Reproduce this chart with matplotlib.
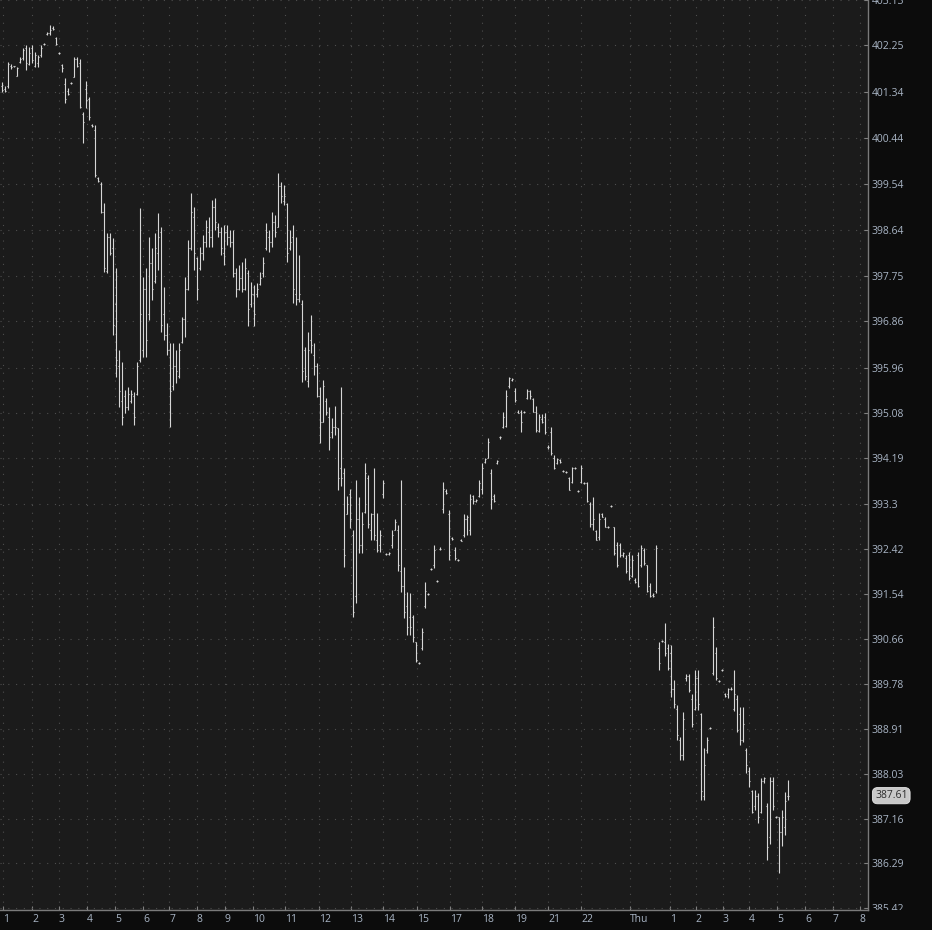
import numpy as np
import matplotlib
matplotlib.use("Agg")
import matplotlib.pyplot as plt
import matplotlib.transforms as mtransforms
from matplotlib.patches import Rectangle

plt.rcParams['font.family'] = ['Open Sans', 'DejaVu Sans']

# ---- OHLC bars (left to right) ----
opens = [
    401.45, 401.40, 401.45, 401.85, 401.84, 401.65, 401.92, 402.00, 402.20, 401.88,
    402.20, 401.85, 401.90, 402.05, 402.28, 402.46, 402.48, 402.58, 402.38, 402.10,
    401.86, 401.50, 401.35, 401.51, 401.63, 401.98, 401.90, 400.90, 401.40, 401.20,
    400.70, 400.60, 399.66, 399.55, 399.00, 397.85, 398.50, 398.30, 397.20, 396.00,
    395.30, 395.40, 395.20, 395.30, 395.40, 395.45, 396.10, 396.30, 397.50, 397.00,
    398.00, 397.65, 398.20, 398.60, 397.00, 396.60, 396.30, 395.60, 396.00, 395.80,
    396.45, 396.90, 397.50, 398.30, 398.90, 398.10, 397.90, 398.20, 398.40, 398.60,
    398.50, 399.10, 398.70, 398.60, 398.20, 398.60, 398.50, 398.40, 397.80, 397.50,
    397.70, 397.50, 397.80, 397.20, 397.40, 397.40, 397.60, 397.80, 398.30, 398.50,
    398.40, 398.80, 398.70, 399.50, 399.20, 399.15, 398.30, 398.50, 397.40, 397.30,
    397.20, 396.30, 395.70, 396.50, 396.20, 396.00, 395.40, 394.90, 395.30, 395.00,
    394.70, 394.80, 394.78, 394.00, 393.90, 393.10, 393.50, 392.70, 391.50, 393.00,
    392.50, 393.15, 393.80, 392.80, 393.10, 392.60, 392.50, 393.50, 392.33, 392.32,
    392.50, 392.80, 392.80, 392.00, 391.70, 391.30, 391.10, 391.10, 390.60, 390.20,
    390.50, 391.30, 391.54, 392.03, 392.10, 391.80, 392.43, 393.20, 393.55, 393.10,
    392.63, 392.40, 392.20, 392.60, 392.70, 393.00, 392.80, 393.45, 393.35, 393.45,
    393.60, 394.12, 394.20, 393.90, 393.45, 394.10, 394.60, 394.80, 394.83, 395.60,
    395.72, 395.50, 395.10, 395.10, 395.10, 395.36, 395.50, 395.35, 395.10, 394.72,
    394.95, 395.00, 394.42, 394.70, 394.20, 394.10, 394.15, 393.94, 393.92, 393.80,
    393.72, 394.00, 393.55, 393.72, 393.70, 393.70, 393.30, 392.90, 392.78, 392.65,
    393.10, 393.00, 392.85, 393.26, 392.85, 392.50, 392.50, 392.30, 392.25, 392.30,
    391.90, 391.82, 392.30, 392.10, 392.40, 392.10, 391.70, 391.52, 391.60, 390.50,
    390.62, 390.60, 390.50, 390.40, 389.70, 389.30, 388.70, 388.40, 389.90, 389.95,
    389.50, 389.30, 389.90, 389.20, 387.60, 388.50, 388.93, 390.00, 390.40, 389.85,
    390.07, 389.60, 389.60, 389.70, 389.30, 389.50, 389.20, 388.70, 388.50, 388.10,
    387.70, 387.40, 387.60, 387.30, 387.90, 387.40, 386.80, 387.90, 387.20, 387.20,
    386.90, 387.00, 387.60,
]
highs = [
    401.53, 401.45, 401.92, 401.88, 401.85, 401.82, 402.02, 402.19, 402.25, 402.21,
    402.25, 402.12, 402.06, 402.25, 402.30, 402.50, 402.64, 402.62, 402.40, 402.12,
    401.88, 401.61, 401.41, 401.53, 402.02, 402.02, 401.98, 400.95, 401.55, 401.24,
    400.72, 400.69, 399.68, 399.58, 399.17, 398.58, 398.58, 398.48, 397.90, 396.30,
    396.07, 395.52, 395.58, 395.52, 395.48, 396.07, 399.07, 397.72, 397.90, 398.50,
    398.29, 398.58, 398.97, 398.70, 397.53, 396.83, 396.44, 396.44, 396.30, 396.44,
    396.94, 397.72, 398.45, 399.36, 399.09, 398.12, 398.31, 398.54, 398.84, 398.89,
    399.23, 399.27, 398.78, 398.70, 398.74, 398.74, 398.64, 398.64, 397.90, 397.96,
    398.02, 398.09, 397.86, 397.62, 397.57, 397.61, 397.82, 398.11, 398.78, 398.64,
    399.00, 398.93, 399.75, 399.58, 399.52, 399.17, 398.64, 398.74, 398.50, 398.15,
    397.28, 396.36, 396.65, 396.98, 396.44, 396.05, 395.58, 395.72, 395.36, 395.19,
    394.97, 395.22, 394.78, 395.58, 394.00, 393.45, 393.60, 392.79, 393.77, 393.43,
    393.14, 394.09, 393.86, 393.12, 394.00, 393.12, 392.79, 393.77, 392.34, 392.36,
    392.79, 393.00, 392.88, 393.77, 392.07, 391.58, 391.56, 391.13, 390.60, 390.22,
    390.88, 391.77, 391.56, 392.05, 392.49, 391.82, 392.46, 393.72, 393.60, 393.18,
    392.65, 392.46, 392.22, 392.61, 393.10, 393.08, 393.49, 393.47, 393.40, 393.77,
    394.10, 394.20, 394.58, 393.99, 393.50, 394.15, 394.63, 395.09, 395.52, 395.77,
    395.76, 395.56, 395.13, 395.13, 395.12, 395.54, 395.52, 395.37, 395.22, 395.05,
    395.05, 395.07, 394.45, 394.80, 394.25, 394.19, 394.18, 393.96, 393.94, 393.82,
    394.02, 394.02, 393.57, 394.06, 393.72, 393.72, 393.34, 393.43, 392.79, 393.12,
    393.12, 393.04, 392.87, 393.28, 392.85, 392.56, 392.54, 392.36, 392.30, 392.36,
    392.30, 391.85, 392.36, 392.50, 392.44, 392.11, 391.76, 391.56, 392.50, 390.60,
    390.64, 390.97, 390.57, 390.55, 389.87, 389.38, 388.75, 389.24, 389.98, 389.98,
    389.60, 390.06, 390.06, 389.23, 388.54, 388.75, 388.95, 391.10, 390.51, 389.87,
    390.09, 389.62, 389.71, 389.72, 390.06, 389.58, 389.33, 389.33, 388.54, 388.17,
    387.72, 387.72, 387.66, 387.96, 387.98, 387.47, 387.98, 387.98, 387.22, 387.20,
    387.33, 387.68, 387.92,
]
lows = [
    401.34, 401.34, 401.41, 401.78, 401.82, 401.65, 401.90, 401.96, 401.77, 401.86,
    401.90, 401.82, 401.82, 402.02, 402.26, 402.44, 402.45, 402.54, 402.25, 402.08,
    401.73, 401.12, 401.28, 401.49, 401.63, 401.82, 401.02, 400.34, 401.02, 400.79,
    400.66, 399.68, 399.58, 398.97, 397.82, 397.80, 398.15, 396.59, 395.77, 395.19,
    394.84, 395.07, 395.13, 395.26, 394.84, 395.42, 396.07, 396.16, 396.16, 396.88,
    397.27, 397.61, 397.86, 396.65, 396.49, 396.20, 394.80, 395.52, 395.66, 395.75,
    396.44, 396.55, 397.47, 398.25, 397.86, 397.27, 397.86, 398.05, 398.31, 398.31,
    398.31, 398.64, 398.50, 398.15, 397.96, 398.35, 398.31, 397.72, 397.33, 397.47,
    397.43, 397.47, 396.78, 397.14, 396.78, 397.33, 397.57, 397.72, 398.25, 398.21,
    398.31, 398.50, 398.70, 399.17, 399.13, 398.02, 398.25, 397.22, 397.18, 397.24,
    395.68, 395.72, 395.58, 396.24, 395.81, 395.38, 394.49, 394.90, 395.03, 394.35,
    394.58, 394.64, 393.57, 393.66, 392.07, 393.10, 392.83, 391.09, 391.36, 392.34,
    392.34, 393.12, 392.83, 392.60, 392.60, 392.36, 392.36, 393.41, 392.30, 392.30,
    392.44, 392.80, 392.00, 391.58, 391.07, 390.74, 390.74, 390.60, 390.21, 390.18,
    390.45, 391.28, 391.52, 392.01, 392.05, 391.78, 392.40, 393.12, 393.50, 392.20,
    392.60, 392.21, 392.18, 392.57, 392.66, 392.70, 392.70, 393.30, 393.33, 393.43,
    393.50, 394.10, 394.20, 393.21, 393.34, 394.08, 394.57, 394.78, 394.80, 395.56,
    395.70, 395.29, 395.07, 394.70, 395.08, 395.35, 395.35, 395.09, 394.70, 394.70,
    394.87, 394.66, 394.38, 394.25, 393.99, 394.08, 394.10, 393.92, 393.90, 393.57,
    393.70, 393.98, 393.53, 393.70, 393.68, 393.34, 392.85, 392.79, 392.60, 392.60,
    393.04, 392.85, 392.83, 393.24, 392.30, 392.07, 392.26, 392.26, 391.95, 391.81,
    391.87, 391.75, 391.68, 392.07, 392.11, 391.58, 391.48, 391.48, 391.56, 390.06,
    390.60, 390.34, 390.06, 389.54, 389.32, 388.69, 388.31, 388.31, 389.84, 389.64,
    388.95, 389.28, 389.28, 387.53, 387.53, 388.44, 388.91, 389.97, 389.87, 389.83,
    390.05, 389.54, 389.52, 389.68, 389.26, 388.86, 388.60, 388.66, 388.05, 387.78,
    387.27, 387.33, 387.08, 387.27, 387.86, 386.36, 386.66, 387.33, 387.18, 386.10,
    386.62, 386.84, 387.53,
]
closes = [
    401.38, 401.36, 401.88, 401.82, 401.84, 401.80, 401.98, 402.15, 401.90, 402.10,
    401.95, 402.05, 402.02, 402.20, 402.28, 402.48, 402.55, 402.56, 402.27, 402.10,
    401.80, 401.20, 401.30, 401.51, 401.98, 401.85, 401.05, 400.75, 401.18, 400.85,
    400.68, 399.72, 399.60, 399.00, 397.90, 398.50, 398.20, 396.80, 396.10, 395.50,
    395.00, 395.20, 395.45, 395.45, 395.00, 396.00, 397.00, 397.50, 396.50, 398.00,
    397.50, 398.30, 398.50, 396.80, 396.60, 396.30, 395.50, 396.00, 395.90, 396.30,
    396.90, 397.50, 398.30, 399.00, 398.20, 397.50, 398.20, 398.40, 398.70, 398.50,
    399.10, 398.80, 398.60, 398.30, 398.60, 398.50, 398.40, 397.80, 397.50, 397.70,
    397.50, 397.90, 397.10, 397.40, 397.00, 397.50, 397.70, 398.00, 398.60, 398.40,
    398.80, 398.60, 399.50, 399.30, 399.30, 398.20, 398.40, 397.50, 397.30, 397.40,
    395.90, 395.80, 396.30, 396.40, 396.00, 395.40, 394.90, 395.60, 395.10, 394.60,
    394.80, 394.80, 393.80, 393.80, 392.30, 393.30, 393.00, 391.20, 393.00, 392.50,
    392.90, 393.90, 392.90, 393.10, 392.70, 392.40, 392.70, 393.70, 392.32, 392.34,
    392.70, 392.95, 392.10, 391.70, 391.20, 390.90, 390.90, 390.70, 390.25, 390.20,
    390.80, 391.60, 391.54, 392.03, 392.40, 391.80, 392.43, 393.60, 393.52, 392.30,
    392.62, 392.25, 392.20, 392.58, 393.00, 393.05, 393.40, 393.35, 393.38, 393.70,
    394.00, 394.18, 394.50, 393.40, 393.36, 394.13, 394.60, 395.00, 395.40, 395.75,
    395.74, 395.32, 395.08, 394.90, 395.10, 395.50, 395.40, 395.10, 394.75, 395.00,
    394.90, 394.70, 394.42, 394.30, 394.00, 394.17, 394.12, 393.94, 393.92, 393.58,
    394.00, 394.00, 393.55, 394.00, 393.70, 393.36, 392.90, 393.00, 392.60, 393.00,
    393.05, 392.86, 392.85, 393.26, 392.35, 392.10, 392.30, 392.35, 392.00, 391.85,
    392.20, 391.77, 391.70, 392.45, 392.15, 391.60, 391.50, 391.50, 392.45, 390.20,
    390.62, 390.40, 390.10, 389.70, 389.40, 388.80, 388.40, 389.10, 389.95, 389.68,
    389.00, 389.90, 389.40, 387.70, 388.20, 388.70, 388.93, 390.90, 389.90, 389.85,
    390.07, 389.56, 389.70, 389.70, 389.60, 388.90, 388.70, 389.00, 388.20, 387.90,
    387.30, 387.60, 387.20, 387.90, 387.95, 386.60, 387.90, 387.40, 387.20, 386.90,
    387.20, 387.50, 387.61,
]

# ---- axis labels ----
price_ticks = [385.42, 386.29, 387.16, 388.03, 388.91, 389.78, 390.66, 391.54,
               392.42, 393.3, 394.19, 395.08, 395.96, 396.86, 397.75, 398.64,
               399.54, 400.44, 401.34, 402.25, 403.13]
time_labels = ['1', '2', '3', '4', '5', '6', '7', '8', '9', '10', '11', '12', '13',
               '14', '15', '17', '18', '19', '21', '22', 'Thu', '1', '2', '3', '4',
               '5', '6', '7', '8']
# bar-slot where each time label sits
time_slots = [0.33, 10, 19, 28.3, 37.7, 47, 55.7, 65, 74.3, 83.7, 94.3, 105.7,
              116.3, 127, 138.3, 149.3, 160, 171, 182, 193, 209.3, 222.7, 231.3,
              240.3, 249, 258.3, 267.7, 277, 286]

W, H = 932, 930
fig = plt.figure(figsize=(W / 100, H / 100), dpi=100, facecolor='#0c0c0c')
ax = fig.add_axes([0, 20 / H, 868 / W, 910 / H], facecolor='#1b1b1b')

x = np.arange(len(opens))
bar_col = '#d6d6d6'
ax.vlines(x, lows, highs, colors=bar_col, lw=0.8)
ax.hlines(opens, x - 0.4, x, colors=bar_col, lw=0.8)
ax.hlines(closes, x, x + 0.4, colors=bar_col, lw=0.8)

ax.set_xlim(-2 / 3, 866 / 3)
ax.set_ylim(385.38, 403.13)

ax.set_xticks(time_slots)
ax.set_xticklabels(time_labels)
ax.set_yticks(price_ticks)
ax.set_yticklabels([f'{p:g}' for p in price_ticks])
ax.yaxis.tick_right()

ax.grid(True, color='#4e4e4e', linestyle=(0, (1, 6)), lw=0.8)
ax.tick_params(axis='both', direction='in', length=3, color='#808080',
               labelcolor='#a9b5c5', labelsize=7.5)
ax.tick_params(axis='y', pad=2.5)
ax.tick_params(axis='x', pad=3)
for lbl in ax.get_xticklabels():
    lbl.set_ha('left')

for s in ['left', 'top']:
    ax.spines[s].set_visible(False)
for s in ['right', 'bottom']:
    ax.spines[s].set_color('#7a7a7a')
    ax.spines[s].set_linewidth(1)

# cut the lowest price label at the bottom strip
clip = Rectangle((0, 20 / H), 1, 1, transform=fig.transFigure)
for lbl in ax.get_yticklabels():
    if lbl.get_text() == '385.42':
        lbl.set_clip_path(clip)

# last price tag
trans = mtransforms.blended_transform_factory(ax.transAxes, ax.transData)
ax.text(1 + 7 / 868, closes[-1], f'{closes[-1]:.2f}', transform=trans,
        ha='left', va='center', fontsize=7.5, color='#2b2b2b', clip_on=False,
        bbox=dict(boxstyle='round,pad=0.25,rounding_size=0.5', fc='#c8c8c8',
                  ec='#e6e6e6', lw=0.6))

fig.savefig('out.png', dpi=100, facecolor=fig.get_facecolor())
